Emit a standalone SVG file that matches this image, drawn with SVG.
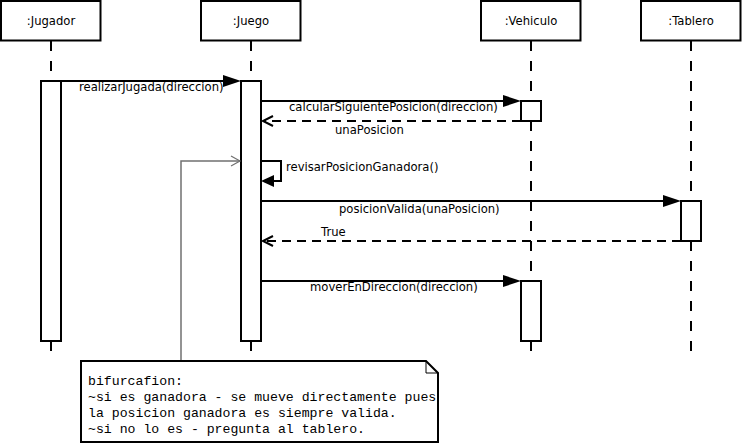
<svg xmlns="http://www.w3.org/2000/svg" width="742" height="444" viewBox="0 0 742 444">
<style>
  .box{fill:#fff;stroke:#000;stroke-width:2}
  .life{stroke:#000;stroke-width:2;stroke-dasharray:10,10;fill:none}
  .act{fill:#fff;stroke:#000;stroke-width:2}
  .msg{stroke:#000;stroke-width:2;fill:none}
  .ret{stroke:#000;stroke-width:2;fill:none;stroke-dasharray:9,6}
  .head{fill:#000;stroke:none}
  .open{fill:none;stroke:#000;stroke-width:2}
  .lbl{font-family:"DejaVu Sans",Verdana,sans-serif;font-size:11.6px;fill:#000}
  .cap{font-family:"DejaVu Sans",Verdana,sans-serif;font-size:11.6px;fill:#000;text-anchor:middle}
  .note{fill:#fff;stroke:#000;stroke-width:2}
  .ntxt{font-family:"Liberation Mono","Courier New",monospace;font-size:13.2px;fill:#000}
</style>
<defs>
  <clipPath id="noteClip"><rect x="82" y="362" width="354" height="79"/></clipPath>
</defs>

<g id="jugador">
  <line class="life" x1="51" y1="41" x2="51" y2="351"/>
  <rect class="box" x="1" y="1" width="99.5" height="39.5"/>
  <text class="cap" x="51" y="25">:Jugador</text>
  <rect class="act" x="41" y="81" width="20" height="260"/>
</g>

<g id="juego">
  <line class="life" x1="251" y1="41" x2="251" y2="351"/>
  <rect class="box" x="201" y="1" width="99.5" height="39.5"/>
  <text class="cap" x="251" y="25">:Juego</text>
  <rect class="act" x="241" y="81" width="20" height="260"/>
</g>

<g id="vehiculo">
  <line class="life" x1="531" y1="41" x2="531" y2="351"/>
  <rect class="box" x="481" y="1" width="99.5" height="39.5"/>
  <text class="cap" x="531" y="25">:Vehiculo</text>
  <rect class="act" x="521" y="101" width="20" height="20"/>
  <rect class="act" x="521" y="281" width="20" height="60"/>
</g>

<g id="tablero">
  <line class="life" x1="691" y1="41" x2="691" y2="351"/>
  <rect class="box" x="641" y="1" width="99.5" height="39.5"/>
  <text class="cap" x="691" y="25">:Tablero</text>
  <rect class="act" x="681" y="201" width="20" height="40"/>
</g>

<g id="connectors">
  <!-- realizarJugada -->
  <line class="msg" x1="61" y1="81" x2="224" y2="81"/>
  <polygon class="head" points="241,81 223,75 223,87"/>
  <text class="lbl" x="79" y="90.5">realizarJugada(direccion)</text>

  <!-- calcularSiguientePosicion -->
  <line class="msg" x1="261" y1="101" x2="504" y2="101"/>
  <polygon class="head" points="521,101 503,95 503,107"/>
  <text class="lbl" x="289" y="110.5">calcularSiguientePosicion(direccion)</text>

  <!-- unaPosicion return -->
  <line class="ret" x1="521" y1="121" x2="263" y2="121"/>
  <polyline class="open" points="273,116 263,121 273,126"/>
  <text class="lbl" x="335" y="133.5">unaPosicion</text>

  <!-- revisarPosicionGanadora self -->
  <polyline class="msg" points="261,161 281,161 281,181 273,181"/>
  <polygon class="head" points="261,181 274,175 274,187"/>
  <text class="lbl" x="286" y="171">revisarPosicionGanadora()</text>

  <!-- posicionValida -->
  <line class="msg" x1="261" y1="201" x2="664" y2="201"/>
  <polygon class="head" points="681,201 663,195 663,207"/>
  <text class="lbl" x="339" y="212.5">posicionValida(unaPosicion)</text>

  <!-- True return -->
  <line class="ret" x1="681" y1="241" x2="263" y2="241"/>
  <polyline class="open" points="273,236 263,241 273,246"/>
  <text class="lbl" x="321" y="235.5">True</text>

  <!-- moverEnDireccion -->
  <line class="msg" x1="261" y1="281" x2="504" y2="281"/>
  <polygon class="head" points="521,281 503,275 503,287"/>
  <text class="lbl" x="310" y="290.5">moverEnDireccion(direccion)</text>

  <!-- note anchor -->
  <polyline fill="none" stroke="#707070" stroke-width="1.5" points="181,361 181,161 240,161"/>
  <polyline fill="none" stroke="#707070" stroke-width="1.2" points="231,156 240,161 231,166"/>
</g>

<g id="note1">
  <path class="note" d="M81,361 L426,361 L438,373 L438,442 L81,442 Z"/>
  <polyline fill="none" stroke="#000" stroke-width="1" points="426,361 426,373 438,373"/>
  <g clip-path="url(#noteClip)">
    <text class="ntxt" x="88" y="385">bifurcafion:</text>
    <text class="ntxt" x="88" y="401">~si es ganadora - se mueve directamente pues</text>
    <text class="ntxt" x="88" y="417">la posicion ganadora es siempre valida.</text>
    <text class="ntxt" x="88" y="433">~si no lo es - pregunta al tablero.</text>
  </g>
</g>
</svg>
